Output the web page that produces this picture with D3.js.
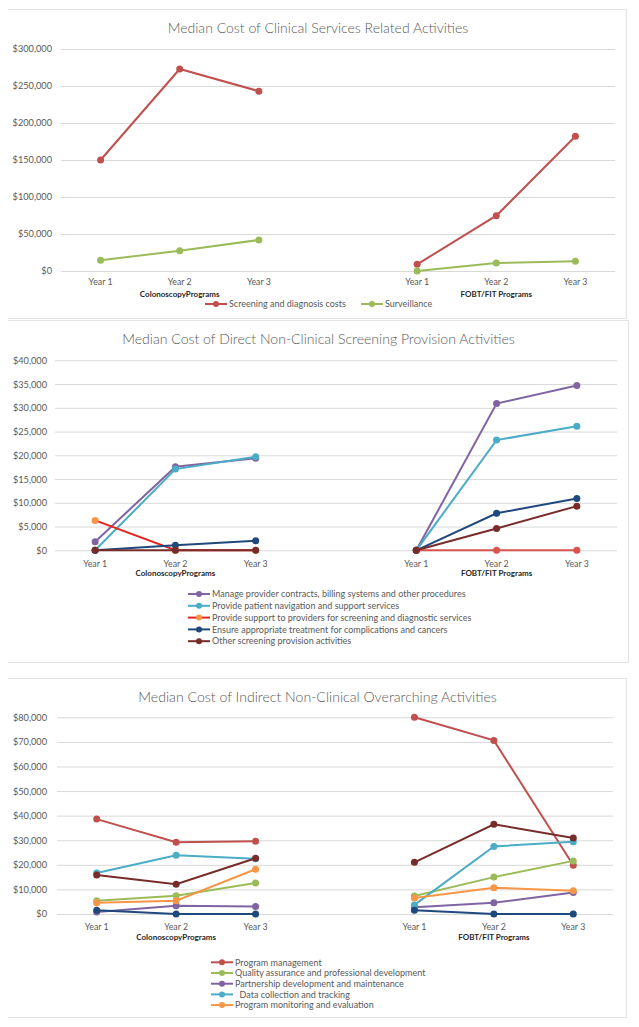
<!DOCTYPE html>
<html><head><meta charset="utf-8">
<script src="https://cdn.jsdelivr.net/npm/d3@7"></script>
<style>body{margin:0;background:#fff}svg{display:block}</style>
</head><body>
<svg id="c" width="639" height="1027"></svg>
<script>
// ---------- data ----------
const yearLabels = ["Year 1", "Year 2", "Year 3"];
const programLabels = ["ColonoscopyPrograms", "FOBT/FIT Programs"];
const slots = ["C1", "C2", "C3", "gap", "F1", "F2", "F3"];

// Panel 1: values = [Colonoscopy Y1,Y2,Y3, FOBT/FIT Y1,Y2,Y3]
const clinicalNames = ["Screening and diagnosis costs", "Surveillance"];
const screeningDiagnosis = [150000, 273000, 243000, 9000, 74700, 182000];
const surveillance = [14500, 27400, 41900, 0, 10800, 13100];
const clinicalTicks = [0, 50000, 100000, 150000, 200000, 250000, 300000];

// Panel 2
const directNames = [
  "Manage provider contracts, billing systems and other procedures",
  "Provide patient navigation and support services",
  "Provide support to providers for screening and diagnostic services",
  "Ensure appropriate treatment for complications and cancers",
  "Other screening provision activities"
];
const manageContracts = [1800, 17600, 19400, 0, 30900, 34700];
const patientNavigation = [0, 17100, 19700, 0, 23200, 26100];
const providerSupport = [6300, 0, 0, 0, 0, 0];
const ensureTreatment = [0, 1050, 2000, 0, 7800, 10900];
const otherProvision = [0, 0, 0, 0, 4600, 9300];
const directTicks = [0, 5000, 10000, 15000, 20000, 25000, 30000, 35000, 40000];

// Panel 3
const indirectNames = [
  "Program management",
  "Quality assurance and professional development",
  "Partnership development and maintenance",
  "  Data collection and tracking",
  "Program monitoring and evaluation"
];
const programManagement = [38600, 29200, 29600, 80000, 70600, 19800];
const qualityAssurance = [5400, 7400, 12600, 7300, 15000, 21600];
const partnershipDev = [800, 3400, 3100, 2700, 4600, 8700];
const dataCollection = [16700, 23900, 22500, 3700, 27500, 29400];
const monitoringEval = [4600, 5400, 18200, 6500, 10700, 9500];
const unlabeledBlue = [1500, 0, 0, 1500, 0, 0];
const unlabeledDarkRed = [15900, 12100, 22700, 21000, 36500, 30900];
const indirectTicks = [0, 10000, 20000, 30000, 40000, 50000, 60000, 70000, 80000];

// ---------- drawing ----------
const svg = d3.select("#c");
const FONT = "Lato, 'Open Sans', sans-serif";
const GRID = "#d9d9d9";
const TXT = "#595959";

function border(x0, y0, x1, y1) {
  const g = svg.append("g").attr("fill", "none").attr("stroke", "#e3e3e3").attr("stroke-width", 1);
  g.append("path").attr("d", `M${x0},${y0}H${x1}V${y1}H${x0}`);
}

function fitText(sel, target) {
  const len = sel.node().getComputedTextLength();
  const fs = parseFloat(sel.attr("font-size"));
  sel.attr("font-size", fs * target / len);
}

function panel(o) {
  const g = svg.append("g");
  border(o.bx0, o.by0, o.bx1, o.by1);

  const t = g.append("text").attr("x", o.titleX).attr("y", o.titleY)
    .attr("text-anchor", "middle").attr("font-family", FONT).attr("font-weight", 300)
    .attr("font-size", 16).attr("fill", TXT).text(o.title);
  fitText(t, o.titleW);

  const x = d3.scaleBand().domain(slots).range([o.x0, o.x1]);
  const y = d3.scaleLinear().domain([0, o.ticks[o.ticks.length - 1]]).range([o.yb, o.yt]);

  const ya = g.append("g").attr("transform", `translate(${o.x0},0)`)
    .call(d3.axisLeft(y).tickValues(o.ticks).tickSize(-(o.x1 - o.x0))
      .tickPadding(o.x0 - o.labelRight).tickFormat(d => "$" + d3.format(",")(d)));
  ya.select(".domain").remove();
  ya.selectAll("line").attr("stroke", GRID).attr("stroke-width", 1);
  ya.selectAll("text").attr("font-family", FONT).attr("font-size", 9.2).attr("fill", TXT);

  const xs = slots.filter(s => s !== "gap");
  const xa = g.append("g").attr("transform", `translate(0,${o.yb})`)
    .call(d3.axisBottom(x).tickValues(xs).tickSize(0).tickPadding(o.yearPad)
      .tickFormat(s => yearLabels[+s[1] - 1]));
  xa.select(".domain").remove();
  xa.selectAll("text").attr("font-family", FONT).attr("font-size", 8.8).attr("fill", TXT);

  programLabels.forEach((p, i) => {
    const mid = i === 0 ? "C2" : "F2";
    g.append("text").attr("x", x(mid) + x.bandwidth() / 2).attr("y", o.groupY)
      .attr("text-anchor", "middle").attr("font-family", FONT).attr("font-weight", "bold")
      .attr("font-size", 8).attr("fill", "#262626").text(p);
  });

  const line = d3.line().x(d => x(d.s) + x.bandwidth() / 2).y(d => y(d.v));
  o.series.forEach(se => {
    [0, 1].forEach(sec => {
      const pts = [0, 1, 2].map(k => ({ s: slots[sec * 4 + k], v: se.values[sec * 3 + k] }));
      const lc = Array.isArray(se.line) ? se.line[sec] : se.line;
      const mc = Array.isArray(se.marker) ? se.marker[sec] : se.marker;
      g.append("path").datum(pts).attr("d", line).attr("fill", "none")
        .attr("stroke", lc).attr("stroke-width", 2);
      g.selectAll(null).data(pts).join("circle")
        .attr("cx", d => x(d.s) + x.bandwidth() / 2).attr("cy", d => y(d.v))
        .attr("r", 3.5).attr("fill", mc);
    });
  });

  // legend
  o.legend.forEach((it, i) => {
    const lx = it.x, ly = it.y;
    const lc = Array.isArray(it.line) ? it.line[0] : it.line;
    const mc = Array.isArray(it.marker) ? it.marker[0] : it.marker;
    g.append("line").attr("x1", lx).attr("x2", lx + 22).attr("y1", ly).attr("y2", ly)
      .attr("stroke", lc).attr("stroke-width", 2);
    g.append("circle").attr("cx", lx + 11).attr("cy", ly).attr("r", 3).attr("fill", mc);
    g.append("text").attr("x", lx + 24).attr("y", ly + 3.2).attr("font-family", FONT)
      .attr("font-size", 9).attr("fill", TXT).attr("xml:space", "preserve").text(it.name);
  });
}

const RED = "#c0504d", GREEN = "#9bbb59", PURPLE = "#8064a2", CYAN = "#4bacc6",
      ORANGE = "#f79646", NAVY = "#1f497d", DKRED = "#772c2a";

// Panel 1
const p1Series = [
  { name: clinicalNames[0], values: screeningDiagnosis, line: RED, marker: RED },
  { name: clinicalNames[1], values: surveillance, line: GREEN, marker: GREEN }
];
panel({
  bx0: 8, by0: 9.5, bx1: 626.5, by1: 318.5,
  title: "Median Cost of Clinical Services Related Activities", titleX: 318, titleY: 33, titleW: 301,
  x0: 61, x1: 615, yt: 49, yb: 271, labelRight: 52, ticks: clinicalTicks,
  yearPad: 8, groupY: 296.5,
  series: p1Series,
  legend: [
    Object.assign({}, p1Series[0], { x: 205, y: 304 }),
    Object.assign({}, p1Series[1], { x: 361, y: 304 })
  ]
});

// Panel 2
const p2Series = [
  { name: directNames[0], values: manageContracts, line: PURPLE, marker: PURPLE },
  { name: directNames[1], values: patientNavigation, line: CYAN, marker: CYAN },
  { name: directNames[2], values: providerSupport, line: ["#e3251f", "#d9534f"], marker: [ORANGE, "#d9534f"] },
  { name: directNames[3], values: ensureTreatment, line: NAVY, marker: NAVY },
  { name: directNames[4], values: otherProvision, line: DKRED, marker: DKRED }
];
panel({
  bx0: 8, by0: 320.5, bx1: 628.5, by1: 662.5,
  title: "Median Cost of Direct Non-Clinical Screening Provision Activities", titleX: 318.5, titleY: 344, titleW: 393,
  x0: 55, x1: 617, yt: 360.3, yb: 550.3, labelRight: 47, ticks: directTicks,
  yearPad: 10, groupY: 576,
  series: p2Series,
  legend: p2Series.map((s, i) => Object.assign({}, s, { x: 188, y: 594 + i * 11.8 }))
});

// Panel 3
const p3Series = [
  { name: indirectNames[0], values: programManagement, line: RED, marker: RED },
  { name: indirectNames[1], values: qualityAssurance, line: GREEN, marker: GREEN },
  { name: indirectNames[2], values: partnershipDev, line: PURPLE, marker: PURPLE },
  { name: indirectNames[3], values: dataCollection, line: CYAN, marker: CYAN },
  { name: indirectNames[4], values: monitoringEval, line: ORANGE, marker: ORANGE },
  { name: "", values: unlabeledBlue, line: NAVY, marker: NAVY },
  { name: "", values: unlabeledDarkRed, line: DKRED, marker: DKRED }
];
panel({
  bx0: 8, by0: 678.5, bx1: 626.5, by1: 1017.5,
  title: "Median Cost of Indirect Non-Clinical Overarching Activities", titleX: 317.5, titleY: 702, titleW: 359,
  x0: 57, x1: 613, yt: 717.3, yb: 914, labelRight: 47, ticks: indirectTicks,
  yearPad: 10, groupY: 940,
  series: p3Series,
  legend: p3Series.slice(0, 5).map((s, i) => Object.assign({}, s, { x: 211, y: 962.3 + i * 10.7 }))
});
</script>
</body></html>
